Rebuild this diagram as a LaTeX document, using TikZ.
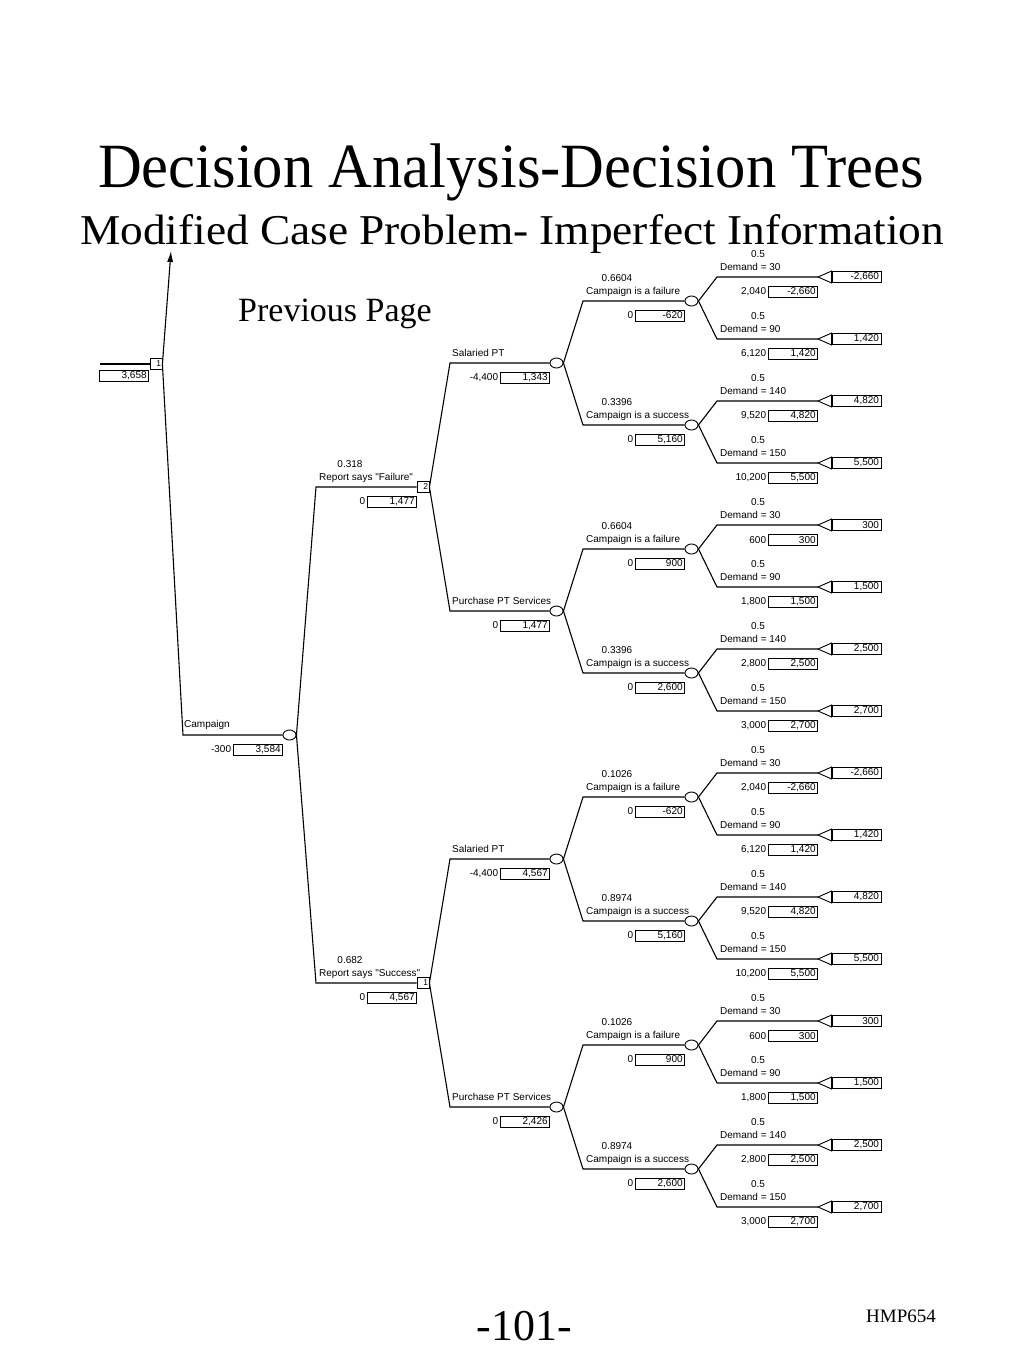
\documentclass[tikz,border=0pt]{standalone}
\usepackage{fontspec}
\setmainfont{Liberation Serif}
\newfontfamily\treefont{Liberation Sans}
\usetikzlibrary{arrows.meta,shapes.geometric}

\newcommand{\treesize}{\treefont\fontsize{10}{10}\selectfont}
\tikzset{
  tree line/.style={line width=1.1pt,draw=black},
  tree arrow/.style={tree line,-{Latex[length=11pt,width=6pt]}},
  tree decision/.style={draw,line width=0.8pt,fill=white,minimum width=12pt,minimum height=11pt,
    inner sep=1pt,text width=10pt,align=right,font=\treefont\fontsize{8.5}{9}\selectfont},
  tree chance/.style={ellipse,draw,line width=0.9pt,fill=white,minimum width=13pt,minimum height=10pt,inner sep=0pt},
  tree end/.style={draw,line width=0.9pt,fill=white},
  tree payoff/.style={draw,line width=0.7pt,text width=45pt,align=right,inner xsep=2pt,inner ysep=0pt,
    minimum height=11pt,font=\treesize},
  tree text/.style={inner sep=0pt,font=\treesize}
}

\begin{document}
\begin{tikzpicture}[x=1pt,y=-1pt]
  \useasboundingbox (0,0) rectangle (1024,1365);

  % headings
  \node[anchor=base,inner sep=0pt,font=\fontsize{63}{63}\selectfont] (title) at (511,187) {\scalebox{0.962}[1]{Decision Analysis-Decision Trees}};
  \node[anchor=base,inner sep=0pt,font=\fontsize{42.5}{42.5}\selectfont] (subtitle) at (512,244) {\scalebox{1.067}[1]{Modified Case Problem- Imperfect Information}};
  \node[anchor=base west,inner sep=0pt,font=\fontsize{34}{34}\selectfont] (prevpage) at (238,321) {Previous Page};
  \node[anchor=base,inner sep=0pt,font=\fontsize{44}{44}\selectfont] (pageno) at (524,1340) {-101-};
  \node[anchor=base west,inner sep=0pt,font=\fontsize{19}{19}\selectfont] (course) at (866,1322) {HMP654};

  % root decision
  \coordinate (in0) at (100,364);
  \coordinate (prev) at (171,251);
  \node[tree decision] (d0) at (156,364) {1};
  \draw[tree line] (in0) -- (d0.west);
  \node[tree payoff,anchor=north east] (v0) at (149,370) {3,658};
  \draw[tree arrow] (d0.east) -- (prev);

  % campaign
  \coordinate (s0) at (183,735);
  \node[tree chance] (cmp) at (289.5,735) {};
  \draw[tree line] (d0.east) -- (s0) -- (cmp.west);
  \node[tree text,anchor=base west] (lcmp) at (184,727) {Campaign};
  \node[tree payoff,anchor=north east] (vcmp) at (283,743.5) {3,584};
  \node[tree text,anchor=base east] (fcmp) at ([xshift=-2pt]vcmp.base west) {-300};

  % survey report
  \foreach \n/\y/\p/\t/\lab/\v in {d1/487/0.318/2/Report says "Failure"/{1,477},
                                   d2/983/0.682/1/Report says "Success"/{4,567}}{
    \coordinate (s\n) at (316,\y);
    \node[tree decision] (\n) at (423,\y) {\t};
    \draw[tree line] (cmp.east) -- (s\n) -- (\n.west);
    \node[tree text,anchor=base] (p\n) at (350,\y-20) {\p};
    \node[tree text,anchor=base west] (l\n) at (319,\y-7) {\lab};
    \node[tree payoff,anchor=north east] (v\n) at (417,\y+8.5) {\v};
    \node[tree text,anchor=base east] (f\n) at ([xshift=-2pt]v\n.base west) {0};
  }

  % staffing choice
  \foreach \n/\y/\up/\lab/\f/\v in {sal1/363/d1/Salaried PT/{-4,400}/{1,343},
                                    pur1/611/d1/Purchase PT Services/0/{1,477},
                                    sal2/859/d2/Salaried PT/{-4,400}/{4,567},
                                    pur2/1107/d2/Purchase PT Services/0/{2,426}}{
    \coordinate (s\n) at (450,\y);
    \node[tree chance] (\n) at (556.5,\y) {};
    \draw[tree line] (\up.east) -- (s\n) -- (\n.west);
    \node[tree text,anchor=base west] (l\n) at (452,\y-7) {\lab};
    \node[tree payoff,anchor=north east] (v\n) at (550,\y+8.5) {\v};
    \node[tree text,anchor=base east] (f\n) at ([xshift=-2pt]v\n.base west) {\f};
  }

  % campaign outcome
  \foreach \i/\y/\up/\p/\lab/\v in {1/301/sal1/0.6604/failure/-620, 2/425/sal1/0.3396/success/{5,160},
                                    3/549/pur1/0.6604/failure/900, 4/673/pur1/0.3396/success/{2,600},
                                    5/797/sal2/0.1026/failure/-620, 6/921/sal2/0.8974/success/{5,160},
                                    7/1045/pur2/0.1026/failure/900, 8/1169/pur2/0.8974/success/{2,600}}{
    \coordinate (sc\i) at (583,\y);
    \node[tree chance] (c\i) at (691.5,\y) {};
    \draw[tree line] (\up.east) -- (sc\i) -- (c\i.west);
    \node[tree text,anchor=base] (pc\i) at (617,\y-20) {\p};
    \node[tree text,anchor=base west] (lc\i) at (586,\y-7) {Campaign is a \lab};
    \node[tree payoff,anchor=north east] (vc\i) at (685,\y+8.5) {\v};
    \node[tree text,anchor=base east] (fc\i) at ([xshift=-2pt]vc\i.base west) {0};
  }

  % demand outcome
  \foreach \j/\up/\d/\f/\v in {1/1/30/{2,040}/{-2,660}, 2/1/90/{6,120}/{1,420},
                               3/2/140/{9,520}/{4,820}, 4/2/150/{10,200}/{5,500},
                               5/3/30/600/300, 6/3/90/{1,800}/{1,500},
                               7/4/140/{2,800}/{2,500}, 8/4/150/{3,000}/{2,700},
                               9/5/30/{2,040}/{-2,660}, 10/5/90/{6,120}/{1,420},
                               11/6/140/{9,520}/{4,820}, 12/6/150/{10,200}/{5,500},
                               13/7/30/600/300, 14/7/90/{1,800}/{1,500},
                               15/8/140/{2,800}/{2,500}, 16/8/150/{3,000}/{2,700}}{
    \pgfmathsetmacro{\y}{277+62*(\j-1)}
    \coordinate (st\j) at (717,\y);
    \coordinate (tip\j) at (818,\y);
    \node[tree payoff] (t\j) at (856.5,\y) {\v};
    \draw[tree line] (c\up.east) -- (st\j) -- (tip\j);
    \draw[tree end] (tip\j) -- ([yshift=6pt]t\j.west) -- ([yshift=-6pt]t\j.west) -- cycle;
    \node[tree text,anchor=base] (pt\j) at (758,\y-20) {0.5};
    \node[tree text,anchor=base west] (lt\j) at (720,\y-7) {Demand = \d};
    \node[tree payoff,anchor=north east] (vt\j) at (818,\y+9) {\v};
    \node[tree text,anchor=base east] (ft\j) at ([xshift=-2pt]vt\j.base west) {\f};
  }
\end{tikzpicture}
\end{document}
